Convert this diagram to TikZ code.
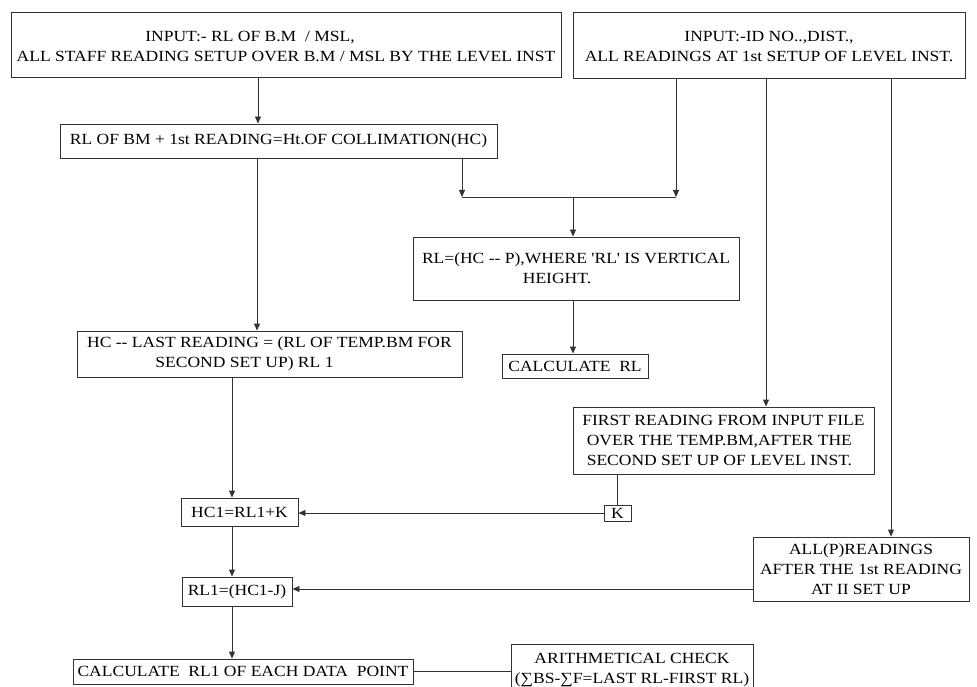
\documentclass[tikz,border=0pt]{standalone}
\usepackage{fontspec}
\setmainfont[FakeStretch=1.13,Ligatures=TeXOff]{Liberation Serif}
\usetikzlibrary{arrows.meta,calc}
\begin{document}
\begin{tikzpicture}[x=1pt,y=-1pt,
  box/.style={draw=black!80,line width=0.9pt,rectangle,inner sep=0pt,align=center,
    font=\fontsize{15.5}{20}\selectfont,text=black},
  conn/.style={draw=black!80,line width=0.9pt},
  arr/.style={conn,-{Triangle[length=7pt,width=6pt]}}]
\useasboundingbox (0,0) rectangle (977,687);
\begin{scope}
\clip (0,0) rectangle (977,687);
\node[box,minimum width=550pt,minimum height=65pt] (b1) at (286,44.5)
  {\rule{0pt}{14pt}INPUT:- RL OF B.M~ / MSL,\hspace*{72pt}\\ALL STAFF READING SETUP OVER B.M / MSL BY THE LEVEL INST};
\node[box,minimum width=392pt,minimum height=66pt] (b2) at (769,45)
  {\rule{0pt}{14pt}INPUT:-ID NO..,DIST.,\\ ALL READINGS AT 1st SETUP OF LEVEL INST.};
\node[box,minimum width=437pt,minimum height=34pt] (b3) at (278.5,141)
  {RL OF BM + 1st READING=Ht.OF COLLIMATION(HC)};
\node[box,minimum width=326pt,minimum height=63pt] (b4) at (576,268.5)
  {RL=(HC -- P),WHERE 'RL' IS VERTICAL\\HEIGHT.\hspace*{38pt}};
\node[box,minimum width=146pt,minimum height=24pt] (b5) at (575,366)
  {CALCULATE~ RL};
\node[box,minimum width=385pt,minimum height=46pt] (b6) at (269.5,354)
  {HC -- LAST READING = (RL OF TEMP.BM FOR\\SECOND SET UP) RL 1\hspace*{50pt}};
\node[box,minimum width=301pt,minimum height=67pt,align=left] (b7) at (723.5,440.5)
  {FIRST READING FROM INPUT FILE\\\ OVER THE TEMP.BM,AFTER THE\\\ SECOND SET UP OF LEVEL INST.};
\node[box,minimum width=27pt,minimum height=16pt] (b8) at (617.5,513) {K};
\node[box,minimum width=117pt,minimum height=28pt] (b9) at (239.5,512) {HC1=RL1+K};
\node[box,minimum width=216pt,minimum height=64pt] (b10) at (861,569)
  {ALL(P)READINGS\\AFTER THE 1st READING\\AT II SET UP};
\node[box,minimum width=110pt,minimum height=29pt] (b11) at (237,591.5) {RL1=(HC1-J)};
\node[box,minimum width=340pt,minimum height=25pt] (b12) at (243,671.5)
  {CALCULATE~ RL1 OF EACH DATA~ POINT};
\node[box,minimum width=242pt,minimum height=50pt,anchor=north] (b13) at (632,644)
  {\rule{0pt}{11pt}ARITHMETICAL CHECK\\(∑BS-∑F=LAST RL-FIRST RL)};
\end{scope}
\coordinate (j1) at (462,197);
\coordinate (j2) at (676,197);
\coordinate (jm) at (573,197);
\draw[arr] (b1.south -| 258,0) -- (b3.north -| 258,0);
\draw[arr] (b3.south -| 257,0) -- (b6.north -| 257,0);
\draw[arr] (b3.south -| j1) -- (j1);
\draw[conn] (j1) -- (j2);
\draw[arr] (b2.south -| j2) -- (j2);
\draw[arr] (jm) -- (b4.north -| jm);
\draw[arr] (b4.south -| 573,0) -- (b5.north -| 573,0);
\draw[arr] (b2.south -| 766,0) -- (b7.north -| 766,0);
\draw[arr] (b2.south -| 891,0) -- (b10.north -| 891,0);
\draw[conn] (b7.south -| b8.north) -- (b8.north);
\draw[arr] (b8.west) -- (b9.east |- b8.west);
\draw[arr] (b6.south -| 232,0) -- (b9.north -| 232,0);
\draw[arr] (b9.south -| 232,0) -- (b11.north -| 232,0);
\draw[arr] (b10.west |- 0,589) -- (b11.east |- 0,589);
\draw[arr] (b11.south -| 232,0) -- (b12.north -| 232,0);
\draw[conn] (b12.east) -- (b13.west |- b12.east);
\end{tikzpicture}
\end{document}
